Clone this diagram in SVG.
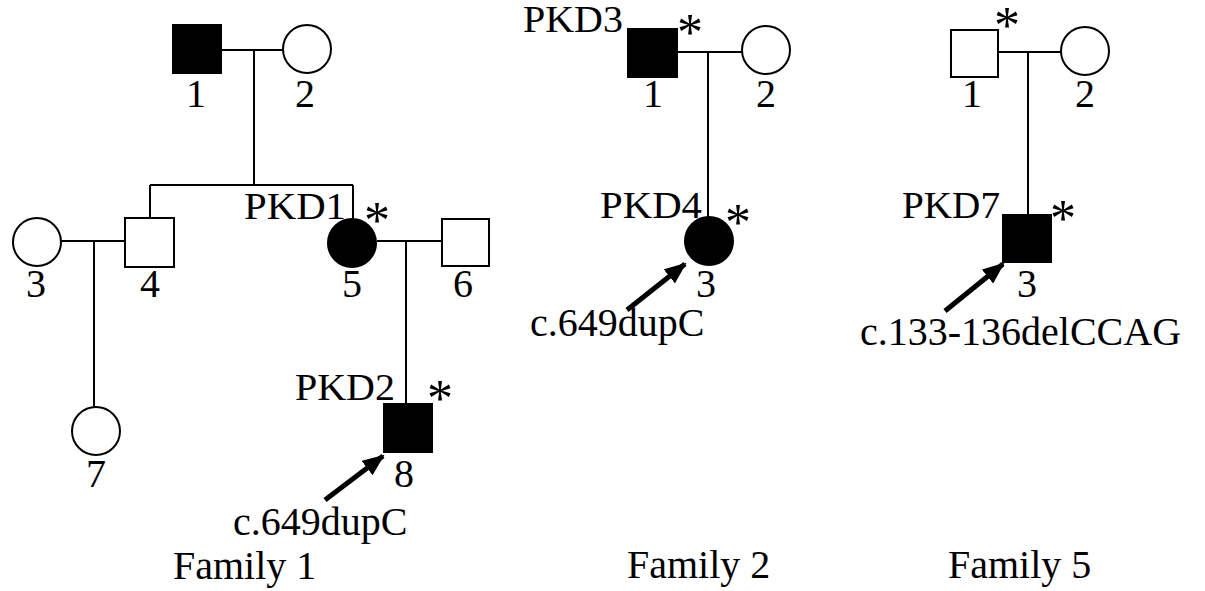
<svg xmlns="http://www.w3.org/2000/svg" width="1205" height="591" viewBox="0 0 1205 591">
<style>
text{font-family:"Liberation Serif","Times New Roman",serif;font-size:40px;fill:#000}
.num{text-anchor:middle}
.id{font-size:38px}
.ast{font-size:52px}
.line{stroke:#000;stroke-width:2;fill:none}
.aff{fill:#000;stroke:#000;stroke-width:2}
.un{fill:#fff;stroke:#000;stroke-width:2}
.arr{stroke:#000;stroke-width:5;fill:none}
</style>
<defs>
<marker id="ah" markerUnits="userSpaceOnUse" markerWidth="22" markerHeight="18" refX="20" refY="9" orient="auto">
<path d="M0,0 L22,9 L0,18 Z" fill="#000"/>
</marker>
</defs>
<rect width="1205" height="591" fill="#fff"/>
<g id="connectors">
<line class="line" x1="222" y1="50" x2="283" y2="50"/>
<line class="line" x1="254" y1="50" x2="254" y2="185"/>
<line class="line" x1="150" y1="185" x2="353" y2="185"/>
<line class="line" x1="150" y1="185" x2="150" y2="218"/>
<line class="line" x1="353" y1="185" x2="353" y2="218"/>
<line class="line" x1="61" y1="241" x2="125" y2="241"/>
<line class="line" x1="94" y1="241" x2="94" y2="407"/>
<line class="line" x1="377" y1="241" x2="442" y2="241"/>
<line class="line" x1="406" y1="241" x2="406" y2="404"/>
<line class="arr" x1="325" y1="500" x2="383" y2="456" marker-end="url(#ah)"/>
<line class="line" x1="678" y1="52" x2="743" y2="52"/>
<line class="line" x1="708" y1="52" x2="708" y2="217"/>
<line class="arr" x1="627" y1="310" x2="685" y2="264" marker-end="url(#ah)"/>
<line class="line" x1="998" y1="52" x2="1061" y2="52"/>
<line class="line" x1="1028" y1="52" x2="1028" y2="215"/>
<line class="arr" x1="945" y1="311" x2="1003" y2="264" marker-end="url(#ah)"/>
</g>
<g id="f1-n1"><rect class="aff" x="173" y="25" width="48" height="48"/><text class="num" x="196" y="107">1</text></g>
<g id="f1-n2"><circle class="un" cx="307" cy="49" r="24"/><text class="num" x="305" y="107">2</text></g>
<g id="f1-n3"><circle class="un" cx="37" cy="242" r="24"/><text class="num" x="36" y="297">3</text></g>
<g id="f1-n4"><rect class="un" x="125" y="218" width="49" height="49"/><text class="num" x="150" y="297">4</text></g>
<g id="f1-n5"><circle class="aff" cx="352" cy="243" r="24"/><text class="num" x="352" y="297">5</text><text class="id" x="244" y="219" textLength="102" lengthAdjust="spacingAndGlyphs">PKD1</text><text class="ast" x="364" y="238">*</text></g>
<g id="f1-n6"><rect class="un" x="442" y="219" width="47" height="47"/><text class="num" x="463" y="297">6</text></g>
<g id="f1-n7"><circle class="un" cx="96" cy="431" r="24"/><text class="num" x="96" y="487">7</text></g>
<g id="f1-n8"><rect class="aff" x="384" y="404" width="48" height="48"/><text class="num" x="404" y="487">8</text><text class="id" x="295" y="400" textLength="100" lengthAdjust="spacingAndGlyphs">PKD2</text><text class="ast" x="427" y="416">*</text><text x="233" y="535">c.649dupC</text></g>
<g id="f1-title"><text x="173" y="579">Family 1</text></g>

<g id="f2-n1"><rect class="aff" x="628" y="29" width="49" height="48"/><text class="num" x="653" y="107">1</text><text class="id" x="523" y="32" textLength="100" lengthAdjust="spacingAndGlyphs">PKD3</text><text class="ast" x="677" y="50">*</text></g>
<g id="f2-n2"><circle class="un" cx="766" cy="50" r="24"/><text class="num" x="766" y="107">2</text></g>
<g id="f2-n3"><circle class="aff" cx="709" cy="241" r="24"/><text class="num" x="706" y="297">3</text><text class="id" x="600" y="218" textLength="102" lengthAdjust="spacingAndGlyphs">PKD4</text><text class="ast" x="725" y="240">*</text><text x="530" y="336">c.649dupC</text></g>
<g id="f2-title"><text x="627" y="578">Family 2</text></g>

<g id="f5-n1"><rect class="un" x="951" y="30" width="47" height="47"/><text class="num" x="972" y="107">1</text><text class="ast" x="994" y="43">*</text></g>
<g id="f5-n2"><circle class="un" cx="1085" cy="51" r="24"/><text class="num" x="1085" y="107">2</text></g>
<g id="f5-n3"><rect class="aff" x="1003" y="215" width="48" height="47"/><text class="num" x="1027" y="297">3</text><text class="id" x="902" y="218" textLength="98" lengthAdjust="spacingAndGlyphs">PKD7</text><text class="ast" x="1050" y="236">*</text><text x="860" y="345">c.133-136delCCAG</text></g>
<g id="f5-title"><text x="948" y="578">Family 5</text></g>
</svg>
